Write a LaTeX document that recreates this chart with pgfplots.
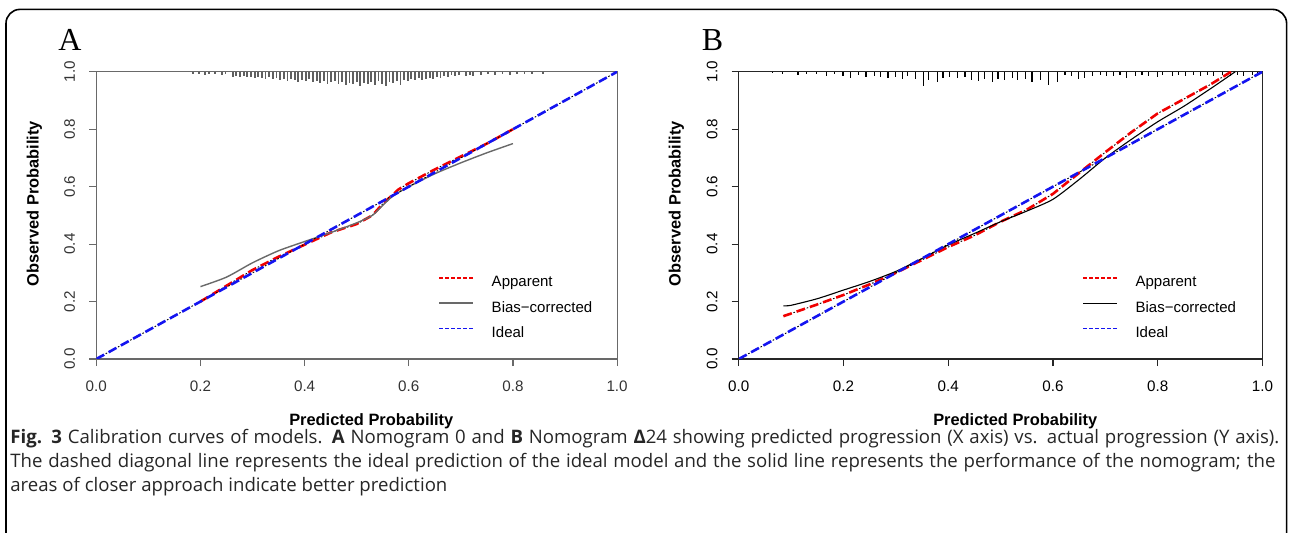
\documentclass[border=0pt]{standalone}
\usepackage{fontspec}
\setmainfont{Liberation Sans}
\newfontfamily\serifA{Liberation Serif}
\newfontfamily\capfont{Open Sans}
\usepackage{pgfplots}
\pgfplotsset{compat=1.18}
\definecolor{rred}{RGB}{240,0,0}
\definecolor{rblue}{RGB}{20,20,240}
\definecolor{rgrey}{RGB}{105,105,105}
\newcommand\tickfont{\fontsize{7.6}{9}\selectfont}
\newcommand\labfont{\bfseries\fontsize{8.2}{10}\selectfont}
\newcommand\legfont{\fontsize{7.5}{9}\selectfont}

\pgfplotsset{calib/.style={
  scale only axis, xmin=0, xmax=1, ymin=0, ymax=1,
  xtick={0,0.2,0.4,0.6,0.8,1}, ytick={0,0.2,0.4,0.6,0.8,1},
  xticklabels={0.0,0.2,0.4,0.6,0.8,1.0}, yticklabels={0.0,0.2,0.4,0.6,0.8,1.0},
  tick pos=left, tick align=outside, major tick length=3.6pt,
  ticklabel style={font=\tickfont},
  yticklabel style={rotate=90, anchor=south},
  xticklabel shift=4pt, yticklabel shift=3.5pt,
  xlabel={Predicted Probability}, ylabel={Observed Probability},
  xlabel style={at={(axis description cs:0.528,-0.218)}, anchor=center, font=\labfont},
  ylabel style={at={(axis description cs:-0.119,0.541)}, anchor=center, font=\labfont},
  legend cell align=left,
  legend style={draw=none, fill=none, inner sep=0pt, font=\legfont,
    row sep=5.7pt, column sep=9pt, anchor=north west,
    nodes={inner sep=0pt, text height=5.4pt, text depth=1.6pt}},
  rdash/.style={line width=1.3pt, dash pattern=on 4.5pt off 2.5pt},
  kdot/.style={black, line width=0.45pt, dash pattern=on 0.8pt off 6.2pt, dash phase=1.65pt},
  legred/.style={legend image code/.code={\draw[rred, line width=0.9pt, dash pattern=on 1.8pt off 1.2pt] (0pt,2.7pt) -- (16.8pt,2.7pt);}},
  legblue/.style={legend image code/.code={\draw[rblue, line width=0.9pt, dash pattern=on 1.8pt off 1.2pt] (0pt,2.7pt) -- (16.8pt,2.7pt);}},
  leggrey/.style={legend image code/.code={\draw[rgrey, line width=0.7pt] (0pt,2.7pt) -- (16.8pt,2.7pt);}},
  legblack/.style={legend image code/.code={\draw[black, line width=0.55pt] (0pt,2.7pt) -- (16.8pt,2.7pt);}}
}}

\begin{document}
\begin{tikzpicture}[x=1pt, y=1pt]
\useasboundingbox (0,0) rectangle (644.5,266.5);
\clip (0,0) rectangle (644.5,266.5);
\draw[line width=0.8pt, rounded corners=7pt] (3,-10) -- (3,261.8) -- (643.3,261.8) -- (643.3,-10);

\node[font=\serifA\fontsize{16}{17}\selectfont, inner sep=0pt] at (35,246.5) {A};
\node[font=\serifA\fontsize{16}{17}\selectfont, inner sep=0pt] at (356.3,246.5) {B};

% Panel A: Nomogram 0
\begin{axis}[calib, at={(48.15pt,87pt)}, anchor=south west, width=260.4pt, height=143.6pt,
  axis line style={rgrey, line width=0.6pt}, tick style={rgrey, line width=0.6pt},
  ticklabel style={text=black!80},
  legend style={at={(axis cs:0.656,0.29)}}]
\addplot[forget plot, rgrey!90!black, line width=0.9pt, quiver={u=0, v=\thisrow{v}}] table {
x y v
0.185 1 -0.007
0.197 1 -0.007
0.209 1 -0.010
0.216 1 -0.007
0.228 1 -0.007
0.241 1 -0.010
0.248 1 -0.007
0.262 1 -0.017
0.269 1 -0.014
0.276 1 -0.017
0.283 1 -0.014
0.290 1 -0.017
0.297 1 -0.017
0.304 1 -0.021
0.311 1 -0.017
0.318 1 -0.021
0.325 1 -0.024
0.332 1 -0.017
0.339 1 -0.024
0.346 1 -0.021
0.353 1 -0.028
0.360 1 -0.024
0.367 1 -0.031
0.374 1 -0.024
0.381 1 -0.028
0.388 1 -0.035
0.395 1 -0.028
0.402 1 -0.031
0.409 1 -0.024
0.416 1 -0.035
0.423 1 -0.031
0.430 1 -0.038
0.437 1 -0.031
0.444 1 -0.042
0.451 1 -0.035
0.458 1 -0.031
0.465 1 -0.042
0.472 1 -0.035
0.479 1 -0.045
0.486 1 -0.038
0.493 1 -0.042
0.500 1 -0.035
0.507 1 -0.049
0.514 1 -0.038
0.521 1 -0.042
0.528 1 -0.035
0.535 1 -0.045
0.542 1 -0.031
0.549 1 -0.042
0.556 1 -0.049
0.563 1 -0.035
0.570 1 -0.038
0.577 1 -0.031
0.584 1 -0.045
0.591 1 -0.028
0.598 1 -0.031
0.605 1 -0.024
0.612 1 -0.028
0.619 1 -0.021
0.626 1 -0.028
0.633 1 -0.024
0.640 1 -0.021
0.647 1 -0.024
0.654 1 -0.017
0.661 1 -0.021
0.668 1 -0.014
0.675 1 -0.017
0.682 1 -0.010
0.689 1 -0.014
0.696 1 -0.010
0.710 1 -0.014
0.717 1 -0.010
0.724 1 -0.014
0.738 1 -0.010
0.752 1 -0.007
0.766 1 -0.010
0.780 1 -0.007
0.794 1 -0.010
0.808 1 -0.007
0.822 1 -0.007
0.836 1 -0.007
0.857 1 -0.007
};
% apparent
\addplot[rred, rdash, legred] coordinates {(0.2,0.2) (0.25,0.255) (0.3,0.31) (0.35,0.356) (0.4,0.398) (0.45,0.44) (0.5,0.47) (0.53,0.50) (0.55,0.54) (0.58,0.59) (0.6,0.612) (0.65,0.66) (0.7,0.705) (0.75,0.75) (0.8,0.80)};
\addlegendentry{Apparent}
\addplot[forget plot, kdot] coordinates {(0.2,0.2) (0.25,0.255) (0.3,0.31) (0.35,0.356) (0.4,0.398) (0.45,0.44) (0.5,0.47) (0.53,0.50) (0.55,0.54) (0.58,0.59) (0.6,0.612) (0.65,0.66) (0.7,0.705) (0.75,0.75) (0.8,0.80)};
% bias-corrected
\addplot[rgrey, line width=0.7pt, smooth, tension=0.4, leggrey] coordinates {(0.2,0.252) (0.25,0.285) (0.3,0.335) (0.35,0.377) (0.4,0.409) (0.45,0.44) (0.5,0.474) (0.53,0.50) (0.55,0.535) (0.57,0.568) (0.6,0.60) (0.65,0.645) (0.7,0.683) (0.75,0.718) (0.8,0.75)};
\addlegendentry{Bias−corrected}
% ideal
\addplot[rblue, rdash, legblue] coordinates {(0,0) (1,1)};
\addlegendentry{Ideal}
\addplot[forget plot, kdot] coordinates {(0,0) (1,1)};
\end{axis}

% Panel B: Nomogram Delta24
\begin{axis}[calib, at={(369.4pt,87pt)}, anchor=south west, width=261.8pt, height=143.6pt,
  axis line style={black!85, line width=0.6pt}, tick style={black!85, line width=0.6pt},
  legend style={at={(axis cs:0.655,0.29)}}]
\addplot[forget plot, black, line width=0.55pt, quiver={u=0, v=\thisrow{v}}] table {
x y v
0.065 1 -0.004
0.083 1 -0.007
0.113 1 -0.010
0.130 1 -0.007
0.148 1 -0.007
0.167 1 -0.014
0.182 1 -0.007
0.199 1 -0.014
0.214 1 -0.021
0.228 1 -0.010
0.243 1 -0.017
0.259 1 -0.014
0.270 1 -0.017
0.285 1 -0.021
0.299 1 -0.017
0.312 1 -0.024
0.323 1 -0.014
0.337 1 -0.024
0.352 1 -0.049
0.363 1 -0.028
0.379 1 -0.035
0.390 1 -0.021
0.403 1 -0.017
0.417 1 -0.021
0.432 1 -0.017
0.445 1 -0.028
0.457 1 -0.031
0.470 1 -0.024
0.484 1 -0.035
0.495 1 -0.024
0.508 1 -0.028
0.522 1 -0.021
0.533 1 -0.028
0.547 1 -0.024
0.560 1 -0.035
0.576 1 -0.028
0.592 1 -0.045
0.609 1 -0.035
0.623 1 -0.010
0.636 1 -0.014
0.648 1 -0.024
0.661 1 -0.021
0.675 1 -0.014
0.690 1 -0.010
0.703 1 -0.014
0.715 1 -0.014
0.728 1 -0.010
0.741 1 -0.021
0.757 1 -0.014
0.770 1 -0.010
0.782 1 -0.014
0.799 1 -0.017
0.810 1 -0.010
0.828 1 -0.014
0.839 1 -0.010
0.853 1 -0.014
0.868 1 -0.010
0.881 1 -0.014
0.895 1 -0.010
0.906 1 -0.014
0.924 1 -0.010
0.939 1 -0.014
0.952 1 -0.010
0.964 1 -0.014
0.981 1 -0.010
0.990 1 -0.014
};
% apparent
\addplot[rred, rdash, legred] coordinates {(0.085,0.149) (0.15,0.19) (0.2,0.223) (0.25,0.26) (0.3,0.30) (0.35,0.345) (0.4,0.39) (0.45,0.43) (0.5,0.478) (0.55,0.52) (0.6,0.575) (0.65,0.648) (0.7,0.72) (0.75,0.79) (0.8,0.855) (0.85,0.905) (0.9,0.955) (0.94,1.0)};
\addlegendentry{Apparent}
\addplot[forget plot, kdot] coordinates {(0.085,0.149) (0.15,0.19) (0.2,0.223) (0.25,0.26) (0.3,0.30) (0.35,0.345) (0.4,0.39) (0.45,0.43) (0.5,0.478) (0.55,0.52) (0.6,0.575) (0.65,0.648) (0.7,0.72) (0.75,0.79) (0.8,0.855) (0.85,0.905) (0.9,0.955) (0.94,1.0)};
% bias-corrected
\addplot[black, line width=0.55pt, smooth, tension=0.4, legblack] coordinates {(0.085,0.185) (0.1,0.187) (0.15,0.21) (0.2,0.24) (0.25,0.27) (0.3,0.305) (0.35,0.35) (0.4,0.397) (0.45,0.437) (0.5,0.478) (0.55,0.515) (0.6,0.556) (0.65,0.625) (0.7,0.70) (0.75,0.765) (0.8,0.826) (0.85,0.88) (0.9,0.94) (0.948,1.0)};
\addlegendentry{Bias−corrected}
% ideal
\addplot[rblue, rdash, legblue] coordinates {(0,0) (1,1)};
\addlegendentry{Ideal}
\addplot[forget plot, kdot] coordinates {(0,0) (1,1)};
\end{axis}

% caption
\begin{scope}[every node/.style={anchor=base west, inner sep=0pt, text=black!85, font=\capfont\fontsize{9.3}{11}\selectfont}]
\node at (5,44.8) {\makebox[634.5pt][s]{\textbf{Fig. 3} Calibration curves of models. \textbf{A} Nomogram 0 and \textbf{B} Nomogram \textbf{Δ}24 showing predicted progression (X axis) vs. actual progression (Y axis).}};
\node at (5,32.8) {\makebox[632.5pt][s]{The dashed diagonal line represents the ideal prediction of the ideal model and the solid line represents the performance of the nomogram; the}};
\node at (5,20.8) {areas of closer approach indicate better prediction};
\end{scope}
\end{tikzpicture}
\end{document}
